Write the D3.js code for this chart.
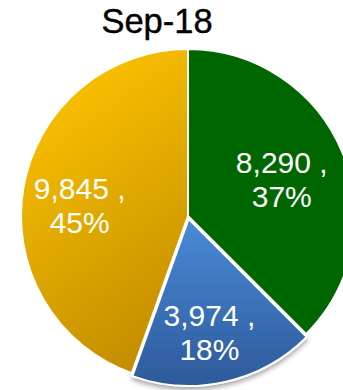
<!DOCTYPE html>
<html>
<head>
<meta charset="utf-8">
<script src="https://cdn.jsdelivr.net/npm/d3@7"></script>
<style>
  body { margin: 0; background: #fff; }
  svg { display: block; }
</style>
</head>
<body>
<div id="chart"></div>
<script>
// data
var title = "Sep-18";
var categories = ["A", "B", "C"];
var values = [8290, 3974, 9845];
var pctLabels = ["37%", "18%", "45%"];

var width = 343, height = 390;
var cx = 188, cy = 216, radius = 167;

// label nudges (Excel best-fit placement), in px from the centroid
var labelNudge = [[-5, 2], [-2, 10], [-3, 5]];
var explode = [0, 3, 0];

var svg = d3.select("#chart")
  .append("svg")
  .attr("width", width)
  .attr("height", height);

var defs = svg.append("defs");

// gradients are in the pie group's coordinates (origin = pie centre)
var gy = defs.append("linearGradient")
  .attr("id", "gYellow")
  .attr("gradientUnits", "userSpaceOnUse")
  .attr("x1", -radius).attr("y1", -radius * 0.5)
  .attr("x2", 0).attr("y2", radius * 0.9);
gy.append("stop").attr("offset", "0%").attr("stop-color", "#f6bd00");
gy.append("stop").attr("offset", "100%").attr("stop-color", "#bd8800");

var gb = defs.append("linearGradient")
  .attr("id", "gBlue")
  .attr("gradientUnits", "userSpaceOnUse")
  .attr("x1", 0).attr("y1", 0)
  .attr("x2", 0).attr("y2", radius);
gb.append("stop").attr("offset", "0%").attr("stop-color", "#4a8ad8");
gb.append("stop").attr("offset", "100%").attr("stop-color", "#2d5a9a");

var shadow = defs.append("filter")
  .attr("id", "shadow")
  .attr("x", "-20%").attr("y", "-20%")
  .attr("width", "140%").attr("height", "140%");
shadow.append("feDropShadow")
  .attr("dx", 0).attr("dy", 3)
  .attr("stdDeviation", 2.5)
  .attr("flood-color", "#000")
  .attr("flood-opacity", 0.35);

var fills = ["#006600", "url(#gBlue)", "url(#gYellow)"];

var pie = d3.pie().sort(null).value(function (d) { return d; });
var arcs = pie(values);

var arc = d3.arc().innerRadius(0).outerRadius(radius);
var labelArc = d3.arc().innerRadius(radius * 0.64).outerRadius(radius * 0.64);

var g = svg.append("g")
  .attr("transform", "translate(" + cx + "," + cy + ")");

g.selectAll("path")
  .data(arcs)
  .enter()
  .append("path")
  .attr("d", arc)
  .attr("transform", function (d, i) {
    var a = (d.startAngle + d.endAngle) / 2;
    return "translate(" + (Math.sin(a) * explode[i]) + "," + (-Math.cos(a) * explode[i]) + ")";
  })
  .attr("fill", function (d, i) { return fills[i]; })
  .attr("filter", function (d, i) { return i == 1 ? "url(#shadow)" : null; })
  .attr("stroke", "#fff")
  .attr("stroke-width", 2)
  .attr("stroke-linejoin", "round");

var labels = g.selectAll("text.lbl")
  .data(arcs)
  .enter()
  .append("text")
  .attr("class", "lbl")
  .attr("transform", function (d, i) {
    var c = labelArc.centroid(d);
    return "translate(" + (c[0] + labelNudge[i][0]) + "," + (c[1] + labelNudge[i][1]) + ")";
  })
  .attr("text-anchor", "middle")
  .style("font-family", "'Liberation Sans', Arial, sans-serif")
  .style("font-size", "30px")
  .style("fill", "#fff");

labels.append("tspan")
  .attr("x", 0)
  .attr("y", -4)
  .text(function (d) { return d3.format(",")(d.data) + " ,"; });
labels.append("tspan")
  .attr("x", 0)
  .attr("y", 30)
  .text(function (d, i) { return pctLabels[i]; });

svg.append("text")
  .attr("x", 157)
  .attr("y", 33)
  .attr("text-anchor", "middle")
  .style("font-family", "'Liberation Sans', Arial, sans-serif")
  .style("font-size", "34.5px")
  .style("fill", "#000")
  .style("stroke", "#000")
  .style("stroke-width", 0.4)
  .text(title);
</script>
</body>
</html>
